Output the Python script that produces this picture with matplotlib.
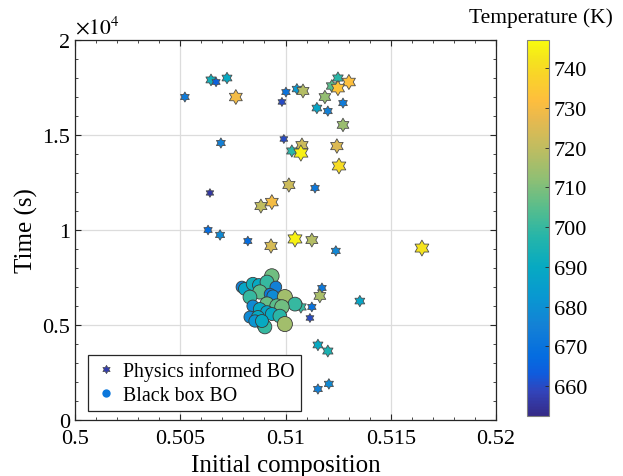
import numpy as np
import matplotlib
matplotlib.use("Agg")
import matplotlib.pyplot as plt
from matplotlib.path import Path
from matplotlib.colors import LinearSegmentedColormap
from matplotlib.lines import Line2D
from matplotlib.ticker import MultipleLocator, FuncFormatter

plt.rcParams['font.family'] = ['Liberation Serif', 'DejaVu Serif']
plt.rcParams['mathtext.fontset'] = 'stix'

# Physics informed BO samples: composition, time (s), temperature (K)
pi_comp = [0.50522, 0.50646, 0.50670, 0.50722, 0.50764, 0.50693, 0.50641, 0.50632,
           0.50689, 0.51002, 0.50983, 0.51054, 0.51083, 0.51220, 0.51249, 0.51301,
           0.51249, 0.51187, 0.51149, 0.51201, 0.51273, 0.51273, 0.50992, 0.51078,
           0.51030, 0.51073, 0.51244, 0.51254, 0.51016, 0.51140, 0.50883, 0.50935,
           0.50821, 0.50931, 0.51045, 0.51125, 0.51239, 0.51648, 0.51173, 0.51163,
           0.51073, 0.51125, 0.51116, 0.51353, 0.51154, 0.51201, 0.51154, 0.51206]
pi_time = [17000, 17900, 17790, 18000, 17000, 14580, 11950, 10000,
           9740, 17260, 16740, 17420, 17320, 17580, 18000, 17790,
           17470, 17000, 16420, 16260, 16680, 15530, 14790, 14470,
           14160, 14050, 14420, 13370, 12370, 12210, 11260, 11470,
           9420, 9160, 9530, 9470, 8900, 9050, 6950, 6530,
           5950, 5950, 5370, 6260, 3950, 3630, 1630, 1900]
pi_temp = [673, 693, 665, 690, 730, 675, 656, 668,
           678, 670, 660, 683, 718, 705, 698, 732,
           733, 713, 688, 675, 673, 714, 660, 722,
           698, 745, 725, 740, 722, 672, 720, 730,
           668, 724, 745, 718, 677, 742, 672, 716,
           700, 670, 660, 688, 690, 695, 675, 678]

# Black box BO samples
bb_comp = [0.50935, 0.50793, 0.50807, 0.50845, 0.50874, 0.50912, 0.50954, 0.50878,
           0.50831, 0.50926, 0.50940, 0.50997, 0.51045, 0.50912, 0.50845, 0.50959,
           0.50983, 0.50878, 0.50912, 0.50831, 0.50869, 0.50935, 0.50973, 0.50893,
           0.50902, 0.50997, 0.50855, 0.50888]
bb_time = [7580, 7000, 6900, 7160, 7100, 7260, 7000, 6740,
           6470, 6630, 6530, 6470, 6100, 6100, 6000, 6000,
           5950, 5840, 5680, 5420, 5420, 5580, 5470, 5050,
           4900, 5050, 5210, 5210]
bb_temp = [708, 675, 688, 693, 690, 700, 675, 705,
           700, 672, 678, 715, 700, 707, 678, 705,
           708, 690, 688, 678, 690, 690, 698, 692,
           700, 715, 682, 690]

x_ticks = [0.5, 0.505, 0.51, 0.515, 0.52]
x_labels = ['0.5', '0.505', '0.51', '0.515', '0.52']
cb_ticks = [660, 670, 680, 690, 700, 710, 720, 730, 740]

# parula-like colour map
parula_pts = [0.0, 4/63, 7/63, 10/63, 15/63, 20/63, 25/63, 30/63, 35/63,
              40/63, 45/63, 50/63, 53/63, 57/63, 60/63, 1.0]
parula_rgb = [(0.2081, 0.1663, 0.5292), (0.1959, 0.2645, 0.7279),
              (0.0591, 0.3598, 0.8683), (0.0165, 0.4266, 0.8786),
              (0.0779, 0.5040, 0.8384), (0.0343, 0.5966, 0.8199),
              (0.0267, 0.6642, 0.7607), (0.1453, 0.7098, 0.6646),
              (0.3482, 0.7424, 0.5473), (0.5709, 0.7485, 0.4494),
              (0.7525, 0.7384, 0.3768), (0.9139, 0.7258, 0.3063),
              (0.9938, 0.7455, 0.2403), (0.9789, 0.8271, 0.1633),
              (0.9589, 0.8949, 0.1132), (0.9763, 0.9831, 0.0538)]
parula = LinearSegmentedColormap.from_list('parula', list(zip(parula_pts, parula_rgb)))

t_min, t_max = 652.5, 747

# six pointed star (hexagram), point up
ang = np.pi / 2 + np.arange(12) * np.pi / 6
rad = np.where(np.arange(12) % 2 == 0, 1.0, 1 / np.sqrt(3))
verts = np.column_stack([rad * np.cos(ang), rad * np.sin(ang)])
verts = np.vstack([verts, verts[:1]])
hexagram = Path(verts, [Path.MOVETO] + [Path.LINETO] * 11 + [Path.CLOSEPOLY])

# marker size grows with temperature
pi_temp_a = np.array(pi_temp)
bb_temp_a = np.array(bb_temp)
pi_size = ((8.5 + (pi_temp_a - 655) * 0.085) * 0.72) ** 2
bb_size = ((10 + (bb_temp_a - 655) * 0.085) * 0.72) ** 2

fig = plt.figure(figsize=(6.23, 4.77), dpi=100)
ax = fig.add_axes([0.1204, 0.1174, 0.6758, 0.7966])

ax.scatter(pi_comp, pi_time, s=pi_size, c=pi_temp, cmap=parula, vmin=t_min, vmax=t_max,
           marker=hexagram, edgecolors='#4d4d4d', linewidths=0.6, zorder=3)
sc = ax.scatter(bb_comp, bb_time, s=bb_size, c=bb_temp, cmap=parula, vmin=t_min, vmax=t_max,
                marker='o', edgecolors='#3a3a3a', linewidths=0.6, zorder=4)

ax.set_xlim(0.5, 0.52)
ax.set_ylim(0, 20000)
ax.set_xticks(x_ticks, x_labels)
ax.xaxis.set_minor_locator(MultipleLocator(0.001))
ax.set_yticks([0, 5000, 10000, 15000, 20000])
ax.yaxis.set_minor_locator(MultipleLocator(1000))
ax.yaxis.set_major_formatter(FuncFormatter(lambda v, p: '%g' % (v / 1e4)))
ax.text(0.0, 1.005, r'$\times10^{4}$', transform=ax.transAxes, ha='left', va='bottom',
        fontsize=15.5)

ax.grid(True, which='major', color='#dcdcdc', linewidth=0.9, zorder=0)
ax.set_axisbelow(True)
ax.tick_params(which='both', direction='in', top=True, right=True, colors='#262626',
               labelsize=16, labelcolor='black')
ax.tick_params(axis='x', which='major', pad=6.5)
ax.tick_params(which='major', length=4, width=0.8)
ax.tick_params(which='minor', length=2.5, width=0.6)
for sp in ax.spines.values():
    sp.set_color('#262626')
    sp.set_linewidth(0.9)

ax.set_xlabel('Initial composition', fontsize=18, labelpad=4)
ax.set_ylabel('Time (s)', fontsize=18, labelpad=3)

handles = [Line2D([], [], linestyle='none', marker=hexagram, markersize=6,
                  markerfacecolor=parula(0.05), markeredgecolor='#4d4d4d', markeredgewidth=0.5),
           Line2D([], [], linestyle='none', marker='o', markersize=6,
                  markerfacecolor=parula(0.2), markeredgecolor='none')]
leg = ax.legend(handles, ['Physics informed BO', 'Black box BO'], loc='lower left',
                bbox_to_anchor=(0.03, 0.025), borderaxespad=0, fontsize=14.3, fancybox=False,
                framealpha=1, edgecolor='#262626', handletextpad=0.3, handlelength=1.2,
                borderpad=0.3, labelspacing=0.25)
leg.get_frame().set_linewidth(0.9)

cax = fig.add_axes([0.846, 0.1258, 0.0353, 0.788])
cb = fig.colorbar(sc, cax=cax, ticks=cb_ticks)
cb.ax.tick_params(direction='in', length=3, width=0.6, labelsize=16, colors='#262626',
                  labelcolor='black')
cb.outline.set_edgecolor('#808080')
cb.outline.set_linewidth(0.8)
fig.text(0.868, 0.962, 'Temperature (K)', ha='center', va='center', fontsize=15.5)

fig.savefig('out.png', dpi=100)
